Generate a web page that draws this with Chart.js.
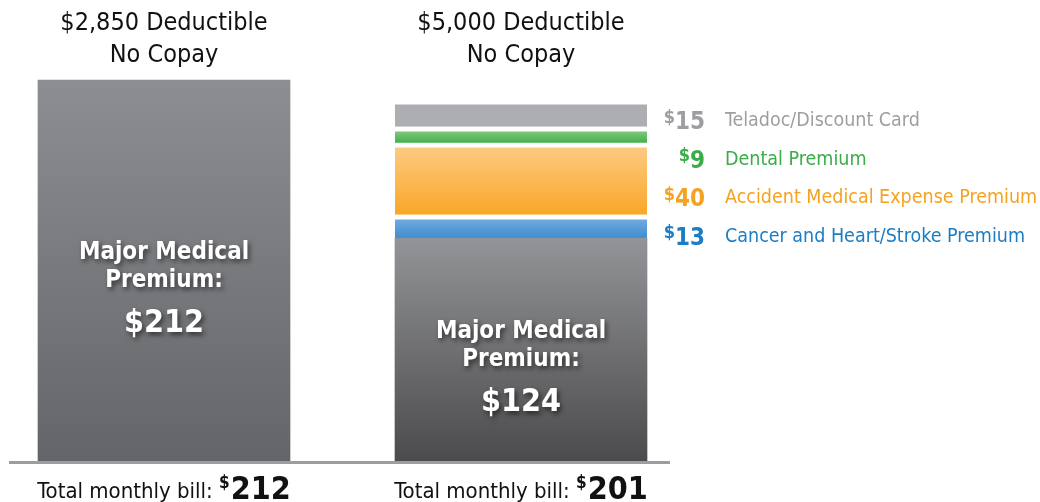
<!DOCTYPE html>
<html>
<head>
<meta charset="utf-8">
<script src="https://cdn.jsdelivr.net/npm/chart.js@4.4.1/dist/chart.umd.min.js"></script>
<style>
  html, body { margin: 0; padding: 0; background: #ffffff; }
  canvas { display: block; }
</style>
</head>
<body>
<canvas id="planChart" width="1040" height="502"></canvas>
<script>
// plan data
const planTitles = [['$2,850 Deductible', 'No Copay'], ['$5,000 Deductible', 'No Copay']];
const majorMedical = [212, 124];
const cancerPremium = [null, 13];
const accidentPremium = [null, 40];
const dentalPremium = [null, 9];
const teladocCard = [null, 15];
const totalBill = [212, 201];
const addOnNames = ['Cancer and Heart/Stroke Premium', 'Accident Medical Expense Premium', 'Dental Premium', 'Teladoc/Discount Card'];

const FONT = '"DejaVu Sans Condensed", "DejaVu Sans", sans-serif';

// gradient per bar segment, top color -> bottom color
function segGradient(topCol, botCol) {
    return function (c) {
        const chart = c.chart;
        const y = chart.scales.y;
        if (!y || !chart.chartArea || c.raw == null) return botCol;
        let start = 0;
        for (let d = 0; d < c.datasetIndex; d++) {
            const v = chart.data.datasets[d].data[c.dataIndex];
            if (v) start += v;
        }
        const y0 = y.getPixelForValue(start + c.raw);
        const y1 = y.getPixelForValue(start);
        if (!isFinite(y0) || !isFinite(y1)) return botCol;
        const g = chart.ctx.createLinearGradient(0, y0, 0, y1);
        g.addColorStop(0, topCol);
        g.addColorStop(1, botCol);
        return g;
    };
}

const majorLeft = segGradient('#8d8e92', '#646568');
const majorRight = segGradient('#939497', '#4b4b4d');

const gap = { top: 5, bottom: 0, left: 0, right: 0 };

const addOnColors = ['#1b7dc3', '#f6a21f', '#3aac48', '#9d9ea2'];

// text on / around the bars
const labelsPlugin = {
    id: 'planLabels',
    afterDatasetsDraw(chart) {
        const ctx = chart.ctx;
        const x = chart.scales.x;
        const y = chart.scales.y;
        ctx.save();
        ctx.textAlign = 'center';
        ctx.textBaseline = 'middle';

        // titles above
        planTitles.forEach((lines, i) => {
            const cx = x.getPixelForValue(i);
            ctx.fillStyle = '#111111';
            ctx.font = '25px ' + FONT;
            ctx.fillText(lines[0], cx, 23);
            ctx.fillText(lines[1], cx, 55);
        });

        // major medical labels inside the bars
        majorMedical.forEach((v, i) => {
            const cx = x.getPixelForValue(i);
            const mid = (y.getPixelForValue(0) + y.getPixelForValue(v)) / 2 + 16;
            ctx.save();
            ctx.shadowColor = 'rgba(0,0,0,0.55)';
            ctx.shadowBlur = 5;
            ctx.shadowOffsetX = 2;
            ctx.shadowOffsetY = 3;
            ctx.fillStyle = '#ffffff';
            ctx.font = 'bold 24px ' + FONT;
            ctx.fillText('Major Medical', cx, mid - 34);
            ctx.fillText('Premium:', cx, mid - 6);
            ctx.font = 'bold 32px ' + FONT;
            ctx.fillText('$' + v, cx, mid + 37);
            ctx.restore();
        });

        // baseline
        const base = y.getPixelForValue(0);
        ctx.fillStyle = '#9c9da0';
        ctx.fillRect(9, base, 661, 3);

        // totals below
        ctx.textAlign = 'left';
        ctx.textBaseline = 'alphabetic';
        totalBill.forEach((t, i) => {
            const cx = x.getPixelForValue(i);
            const a = 'Total monthly bill: ';
            ctx.font = '22px ' + FONT;
            const wa = ctx.measureText(a).width;
            ctx.font = 'bold 17px ' + FONT;
            const wd = ctx.measureText('$').width;
            ctx.font = 'bold 32px ' + FONT;
            const wn = ctx.measureText(String(t)).width;
            let sx = cx - (wa + wd + 1 + wn) / 2;
            ctx.fillStyle = '#111111';
            ctx.font = '22px ' + FONT;
            ctx.fillText(a, sx, 498);
            sx += wa;
            ctx.font = 'bold 17px ' + FONT;
            ctx.fillText('$', sx, 488);
            sx += wd + 1;
            ctx.font = 'bold 32px ' + FONT;
            ctx.fillText(String(t), sx, 499);
        });

        // add-on legend beside the second bar, top to bottom
        const addOnData = [cancerPremium, accidentPremium, dentalPremium, teladocCard];
        const items = [];
        let start = majorMedical[1];
        addOnData.forEach((arr, k) => {
            const v = arr[1];
            items.push({
                name: addOnNames[k],
                value: v,
                color: addOnColors[k],
                y: (y.getPixelForValue(start) + y.getPixelForValue(start + v)) / 2
            });
            start += v;
        });
        items.reverse();
        let last = -Infinity;
        items.forEach(it => {
            const yy = Math.max(it.y + 8, last + 38.5);
            last = yy;
            ctx.fillStyle = it.color;
            ctx.textBaseline = 'middle';
            ctx.textAlign = 'right';
            const vStr = String(it.value);
            ctx.font = 'bold 24px ' + FONT;
            const wn = ctx.measureText(vStr).width;
            ctx.fillText(vStr, 705, yy + 2);
            ctx.font = 'bold 18px ' + FONT;
            ctx.fillText('$', 705 - wn, yy - 3);
            ctx.textAlign = 'left';
            ctx.font = '19.5px ' + FONT;
            ctx.fillText(it.name, 725, yy);
        });
        ctx.restore();
    }
};

const ctx = document.getElementById('planChart').getContext('2d');
window.planChart = new Chart(ctx, {
    type: 'bar',
    data: {
        labels: ['Plan A', 'Plan B'],
        datasets: [
            {
                label: 'Major Medical Premium',
                data: majorMedical,
                backgroundColor: c => (c.dataIndex === 0 ? majorLeft(c) : majorRight(c)),
                borderWidth: 0
            },
            {
                label: addOnNames[0],
                data: cancerPremium,
                backgroundColor: segGradient('#7fb0e2', '#3d8dcf'),
                borderColor: '#ffffff',
                borderWidth: gap,
                borderSkipped: false
            },
            {
                label: addOnNames[1],
                data: accidentPremium,
                backgroundColor: segGradient('#fdcd88', '#f9a627'),
                borderColor: '#ffffff',
                borderWidth: gap,
                borderSkipped: false
            },
            {
                label: addOnNames[2],
                data: dentalPremium,
                backgroundColor: segGradient('#96d191', '#43b04a'),
                borderColor: '#ffffff',
                borderWidth: gap,
                borderSkipped: false
            },
            {
                label: addOnNames[3],
                data: teladocCard,
                backgroundColor: '#adaeb1',
                borderColor: '#ffffff',
                borderWidth: gap,
                borderSkipped: false
            }
        ]
    },
    options: {
        responsive: false,
        maintainAspectRatio: false,
        animation: false,
        barThickness: 252,
        layout: {
            padding: { left: 164, right: 519, top: 80, bottom: 41 }
        },
        datasets: {
            bar: { clip: false }
        },
        scales: {
            x: { stacked: true, display: false, offset: false },
            y: { stacked: true, display: false, min: 0, max: 212 }
        },
        plugins: {
            legend: { display: false },
            tooltip: { enabled: false }
        }
    },
    plugins: [labelsPlugin]
});
</script>
</body>
</html>
